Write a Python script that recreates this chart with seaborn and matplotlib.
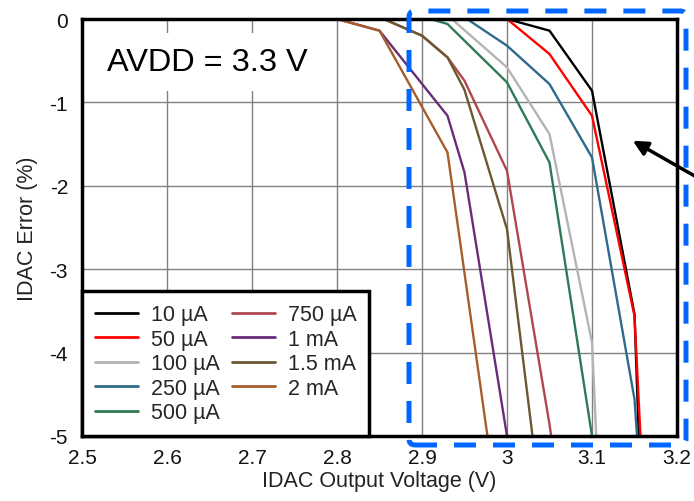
import pandas as pd
import matplotlib.pyplot as plt
import matplotlib.patches as mpatches
import seaborn as sns

# IDAC error vs output voltage
labels = ["10 µA", "50 µA", "100 µA", "250 µA", "500 µA",
          "750 µA", "1 mA", "1.5 mA", "2 mA"]
colors = ["#000000", "#ff0000", "#b4b4b4", "#2f6a8c", "#2e7a55",
          "#b0464e", "#6a2c78", "#6b5833", "#a65d2a"]

v_10u = [3.0, 3.05, 3.10, 3.15, 3.155]
e_10u = [0.0, -0.14, -0.86, -3.54, -5.0]
v_50u = [3.0, 3.05, 3.10, 3.15, 3.157]
e_50u = [0.0, -0.42, -1.16, -3.56, -5.0]
v_100u = [2.935, 3.0, 3.05, 3.10, 3.105]
e_100u = [0.0, -0.58, -1.38, -3.88, -5.0]
v_250u = [2.953, 3.0, 3.05, 3.10, 3.15, 3.153]
e_250u = [0.0, -0.32, -0.78, -1.66, -4.56, -5.0]
v_500u = [2.91, 2.93, 3.0, 3.05, 3.10]
e_500u = [0.0, -0.06, -0.76, -1.72, -5.0]
v_750u = [2.855, 2.90, 2.93, 2.95, 3.0, 3.05, 3.052]
e_750u = [0.0, -0.20, -0.46, -0.74, -1.82, -4.86, -5.0]
v_1m = [2.80, 2.85, 2.93, 2.95, 3.0]
e_1m = [0.0, -0.14, -1.16, -1.84, -5.0]
v_1m5 = [2.855, 2.90, 2.93, 2.95, 3.0, 3.03]
e_1m5 = [0.0, -0.20, -0.46, -0.85, -2.52, -5.0]
v_2m = [2.80, 2.85, 2.93, 2.977]
e_2m = [0.0, -0.14, -1.60, -5.0]

volts = [v_10u, v_50u, v_100u, v_250u, v_500u, v_750u, v_1m, v_1m5, v_2m]
errs = [e_10u, e_50u, e_100u, e_250u, e_500u, e_750u, e_1m, e_1m5, e_2m]

rows = []
for lab, vs, es in zip(labels, volts, errs):
    for v, e in zip(vs, es):
        rows.append({"current": lab, "voltage": v, "error": e})
df = pd.DataFrame(rows)

sns.set_theme(style="white")
plt.rcParams['font.family'] = ['Liberation Sans', 'DejaVu Sans']

fig = plt.figure(figsize=(6.94, 5.02), dpi=100)
ax = fig.add_axes([82 / 694, 1 - 437 / 502, 595 / 694, 417 / 502])

sns.lineplot(data=df, x="voltage", y="error", hue="current",
             hue_order=labels, palette=colors, estimator=None,
             sort=False, linewidth=1.7, ax=ax, zorder=3)

ax.set_xlim(2.5, 3.2)
ax.set_ylim(-5, 0)
xt = [2.5, 2.6, 2.7, 2.8, 2.9, 3.0, 3.1, 3.2]
ax.set_xticks(xt)
ax.set_xticklabels(["2.5", "2.6", "2.7", "2.8", "2.9", "3", "3.1", "3.2"])
yt = [0, -1, -2, -3, -4, -5]
ax.set_yticks(yt)
ax.set_yticklabels(["0", "-1", "-2", "-3", "-4", "-5"])
ax.tick_params(length=0, labelsize=15, colors="#111111")
ax.tick_params(axis="x", pad=9)
ax.tick_params(axis="y", pad=10)
ax.grid(True, color="#808080", linewidth=1.0)
ax.set_axisbelow(True)

for sp in ax.spines.values():
    sp.set_color("black")
    sp.set_linewidth(2.5)
    sp.set_zorder(5)

ax.set_xlabel("IDAC Output Voltage (V)", fontsize=15.5, labelpad=2, color="#222222")
ax.set_ylabel("IDAC Error (%)", fontsize=15.5, labelpad=8, color="#222222")

ax.text(0.042, 0.897, "AVDD = 3.3 V", transform=ax.transAxes,
        fontsize=23.4, va="center", ha="left", zorder=4, color="black",
        bbox=dict(facecolor="white", edgecolor="none", pad=10))

handles, _ = ax.get_legend_handles_labels()
leg = ax.legend(handles, labels, ncol=2, loc="lower left", fontsize=15.5,
                bbox_to_anchor=(0, 0), borderaxespad=0, frameon=True,
                fancybox=False, framealpha=1, labelspacing=0.16,
                handlelength=2.0, handletextpad=0.6, columnspacing=0.55,
                borderpad=0.6)
leg.get_frame().set_edgecolor("black")
leg.get_frame().set_linewidth(2.5)
leg.set_zorder(6)
for ln in leg.get_lines():
    ln.set_linewidth(2.0)

# blue dashed highlight box around the knee region
box = mpatches.FancyBboxPatch((409, 502 - 446), 277, 434,
                              boxstyle="round,pad=0,rounding_size=6",
                              transform=None, fill=False,
                              edgecolor="#0066ff", linewidth=3.6,
                              linestyle=(0, (4.4, 3.4)), zorder=10)
fig.patches.append(box)

# pointer arrow
ax.annotate("", xy=(3.148, -1.46), xycoords="data",
            xytext=(700, 502 - 180), textcoords="figure pixels",
            arrowprops=dict(arrowstyle="-|>", color="black", lw=2.5,
                            mutation_scale=22, shrinkA=0, shrinkB=0),
            annotation_clip=False, zorder=11)

fig.savefig("out.png", dpi=100)
